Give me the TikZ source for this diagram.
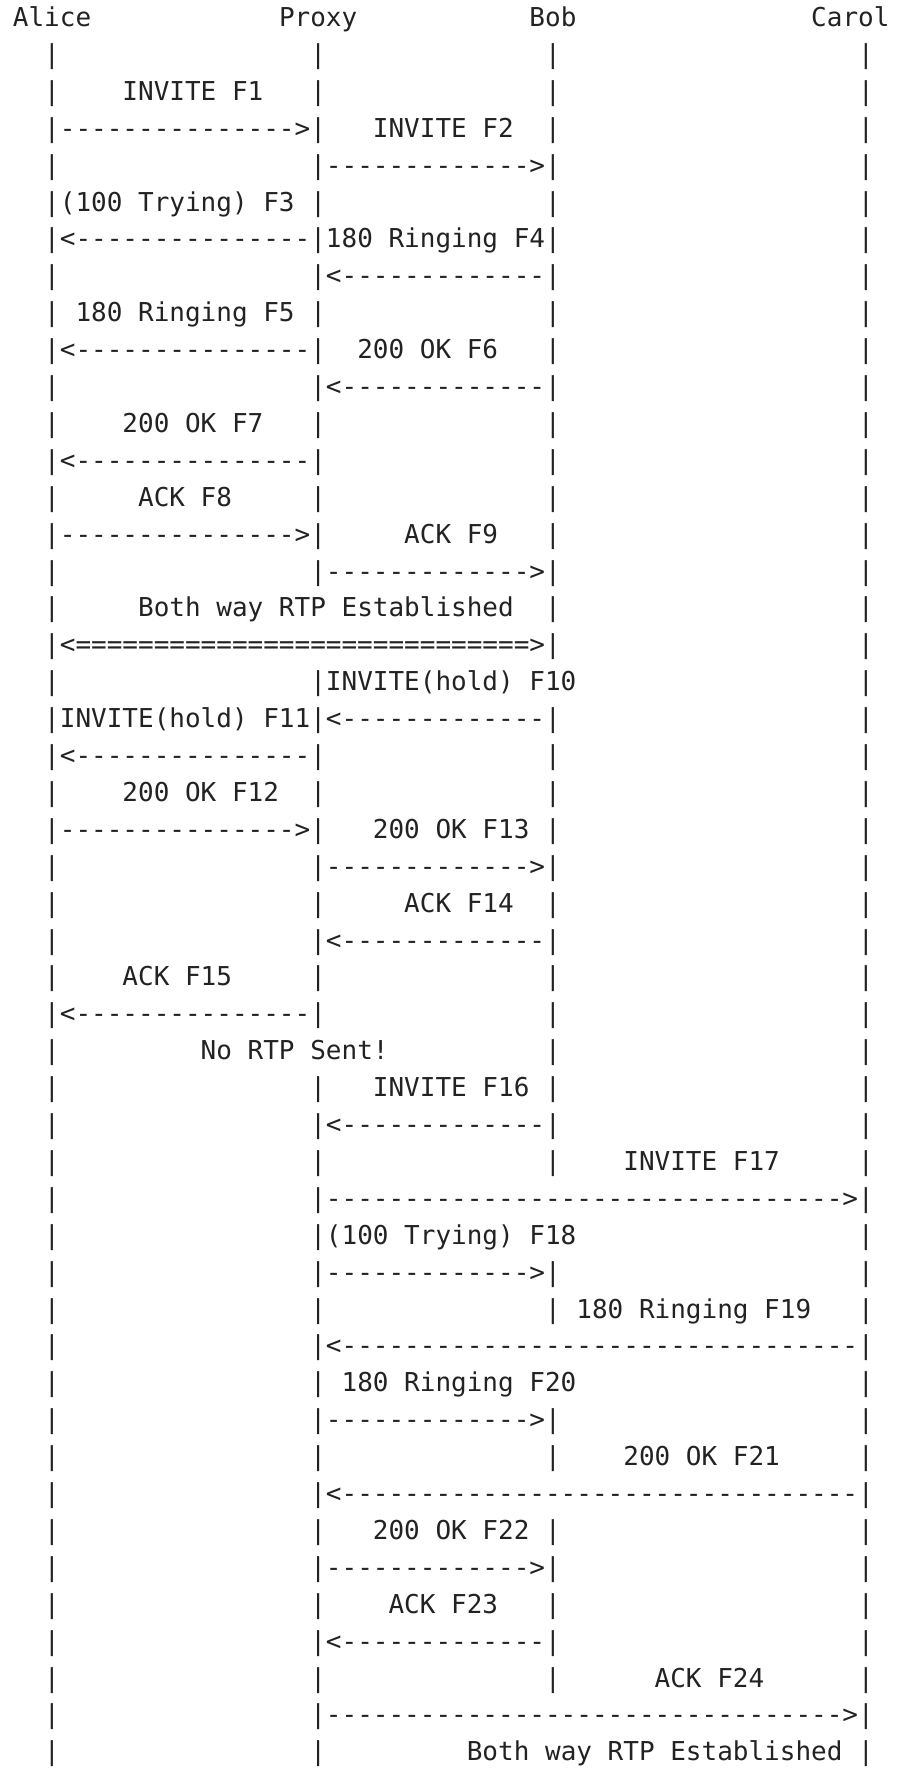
\documentclass[tikz,border=0pt]{standalone}
\usepackage{fontspec}
\usepackage{xcolor}
\newfontfamily\sipmono[Ligatures=TeXOff]{DejaVu Sans Mono}
\definecolor{sipink}{RGB}{34,34,34}
\newcommand\siprun[2]{\foreach\k in {1,...,#1}{#2}}
\newcommand\siprarr[1]{\siprun{#1}{-}>}
\newcommand\siplarr[1]{<\siprun{#1}{-}}
\tikzset{
  sip/.style={font={\sipmono\fontsize{26pt}{31pt}\selectfont}, text=sipink,
    anchor=base west, inner sep=0pt, outer sep=0pt},
  sipname/.style={sip},
  sipbar/.style={sip},
  sipmsg/.style={sip},
  siparr/.style={sip}
}
\begin{document}
\begin{tikzpicture}[x=15.653pt, y=-36.9pt]
  \useasboundingbox (-0.8241,0.2818) rectangle (56.993,48.222);
  % parties
  \node[sipname] (alice) at (0,1)  {Alice};
  \node[sipname] (proxy) at (17,1) {Proxy};
  \node[sipname] (bob)   at (33,1) {Bob};
  \node[sipname] (carol) at (51,1) {Carol};
  % lifelines
  \foreach \r in {2,...,48} {
    \node[sipbar] (al\r) at (2,\r)  {|};
    \node[sipbar] (ca\r) at (54,\r) {|};
  }
  \foreach \r in {2,...,16} {\node[sipbar] (px\r) at (19,\r) {|};}
  \foreach \r in {19,...,28} {\node[sipbar] (px\r) at (19,\r) {|};}
  \foreach \r in {30,...,48} {\node[sipbar] (px\r) at (19,\r) {|};}
  \foreach \r in {2,...,18} {\node[sipbar] (bb\r) at (34,\r) {|};}
  \foreach \r in {20,...,32} {\node[sipbar] (bb\r) at (34,\r) {|};}
  \foreach \r in {35,36,39,40,42,43,44,45,46} {\node[sipbar] (bb\r) at (34,\r) {|};}
  % call setup
  \node[sipmsg] (m1)  at (7,3)  {INVITE F1};
  \node[siparr] (a1)  at (3,4)  {\siprarr{15}};
  \node[sipmsg] (m2)  at (23,4) {INVITE F2};
  \node[siparr] (a2)  at (20,5) {\siprarr{13}};
  \node[sipmsg] (m3)  at (3,6)  {(100 Trying) F3};
  \node[siparr] (a3)  at (3,7)  {\siplarr{15}};
  \node[sipmsg] (m4)  at (20,7) {180 Ringing F4};
  \node[siparr] (a4)  at (20,8) {\siplarr{13}};
  \node[sipmsg] (m5)  at (4,9)  {180 Ringing F5};
  \node[siparr] (a5)  at (3,10) {\siplarr{15}};
  \node[sipmsg] (m6)  at (22,10) {200 OK F6};
  \node[siparr] (a6)  at (20,11) {\siplarr{13}};
  \node[sipmsg] (m7)  at (7,12) {200 OK F7};
  \node[siparr] (a7)  at (3,13) {\siplarr{15}};
  \node[sipmsg] (m8)  at (8,14) {ACK F8};
  \node[siparr] (a8)  at (3,15) {\siprarr{15}};
  \node[sipmsg] (m9)  at (25,15) {ACK F9};
  \node[siparr] (a9)  at (20,16) {\siprarr{13}};
  \node[sipmsg] (rtp1) at (8,17) {Both way RTP Established};
  \node[siparr] (rtp1a) at (3,18) {<\siprun{29}{=}>};
  % hold
  \node[sipmsg] (m10) at (20,19) {INVITE(hold) F10};
  \node[sipmsg] (m11) at (3,20)  {INVITE(hold) F11};
  \node[siparr] (a10) at (20,20) {\siplarr{13}};
  \node[siparr] (a11) at (3,21)  {\siplarr{15}};
  \node[sipmsg] (m12) at (7,22)  {200 OK F12};
  \node[siparr] (a12) at (3,23)  {\siprarr{15}};
  \node[sipmsg] (m13) at (23,23) {200 OK F13};
  \node[siparr] (a13) at (20,24) {\siprarr{13}};
  \node[sipmsg] (m14) at (25,25) {ACK F14};
  \node[siparr] (a14) at (20,26) {\siplarr{13}};
  \node[sipmsg] (m15) at (7,27)  {ACK F15};
  \node[siparr] (a15) at (3,28)  {\siplarr{15}};
  \node[sipmsg] (nortp) at (12,29) {No RTP Sent!};
  % transfer to Carol
  \node[sipmsg] (m16) at (23,30) {INVITE F16};
  \node[siparr] (a16) at (20,31) {\siplarr{13}};
  \node[sipmsg] (m17) at (39,32) {INVITE F17};
  \node[siparr] (a17) at (20,33) {\siprarr{33}};
  \node[sipmsg] (m18) at (20,34) {(100 Trying) F18};
  \node[siparr] (a18) at (20,35) {\siprarr{13}};
  \node[sipmsg] (m19) at (36,36) {180 Ringing F19};
  \node[siparr] (a19) at (20,37) {\siplarr{33}};
  \node[sipmsg] (m20) at (21,38) {180 Ringing F20};
  \node[siparr] (a20) at (20,39) {\siprarr{13}};
  \node[sipmsg] (m21) at (39,40) {200 OK F21};
  \node[siparr] (a21) at (20,41) {\siplarr{33}};
  \node[sipmsg] (m22) at (23,42) {200 OK F22};
  \node[siparr] (a22) at (20,43) {\siprarr{13}};
  \node[sipmsg] (m23) at (24,44) {ACK F23};
  \node[siparr] (a23) at (20,45) {\siplarr{13}};
  \node[sipmsg] (m24) at (41,46) {ACK F24};
  \node[siparr] (a24) at (20,47) {\siprarr{33}};
  \node[sipmsg] (rtp2) at (29,48) {Both way RTP Established};
\end{tikzpicture}
\end{document}
